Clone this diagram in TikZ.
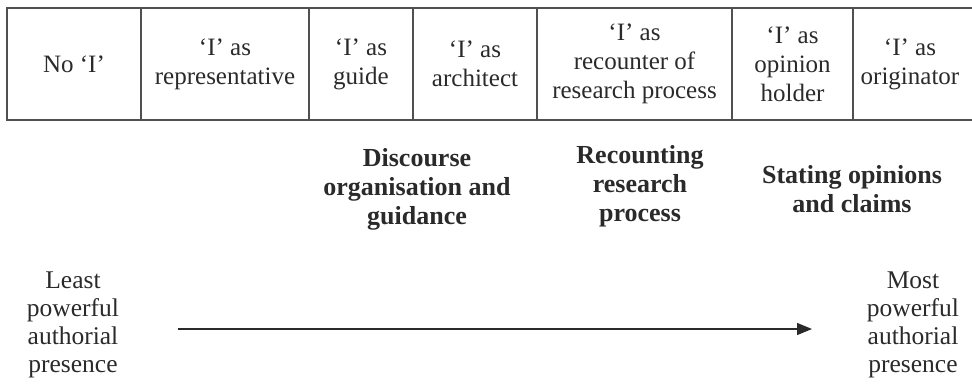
\documentclass[tikz,border=0pt]{standalone}
\usepackage{fontspec}
\setmainfont{Liberation Serif}
\usetikzlibrary{arrows.meta}
\definecolor{ink}{HTML}{2A2A2A}
\definecolor{rule}{HTML}{505050}
\begin{document}
\begin{tikzpicture}[x=1pt,y=-1pt,
  cell/.style={align=center,inner sep=0pt,text=ink,font=\fontsize{25}{29}\selectfont},
  head/.style={align=center,inner sep=0pt,text=ink,font=\bfseries\fontsize{26}{29}\selectfont},
  side/.style={align=center,inner sep=0pt,text=ink,font=\fontsize{25.5}{28}\selectfont},
  grid/.style={draw=rule,line width=1.4pt},
  scale arrow/.style={draw=ink,line width=1.4pt,-{Triangle[length=15pt,width=12pt]}}]
\useasboundingbox (0,0) rectangle (972,384);
% table rules
\draw[grid] (972,8) -- (7,8) -- (7,120) -- (972,120);
\foreach \x in {141,309,413,537,732,853} \draw[grid] (\x,8) -- (\x,120);
% cell texts
\node[cell] (c1) at (74,64) {No ‘I’};
\node[cell] (c2) at (225,64) {‘I’ as\\representative};
\node[cell] (c3) at (361,64) {‘I’ as\\guide};
\node[cell] (c4) at (475,64) {‘I’ as\\architect};
\node[cell] (c5) at (634.5,64) {‘I’ as\\recounter of\\research process};
\node[cell] (c6) at (792.5,64) {‘I’ as\\opinion\\holder};
\node[cell] (c7) at (910,64) {‘I’ as\\originator};
% category headings
\node[head] (h1) at (417,189) {Discourse\\organisation and\\guidance};
\node[head] (h2) at (640,186) {Recounting\\research\\process};
\node[head] (h3) at (852,189) {Stating opinions\\and claims};
% scale ends
\node[side] (least) at (73,325) {Least\\powerful\\authorial\\presence};
\node[side] (most) at (913,325) {Most\\powerful\\authorial\\presence};
\coordinate (as) at (178,329);
\coordinate (ae) at (812,329);
\draw[scale arrow] (as) -- (ae);
\end{tikzpicture}
\end{document}
